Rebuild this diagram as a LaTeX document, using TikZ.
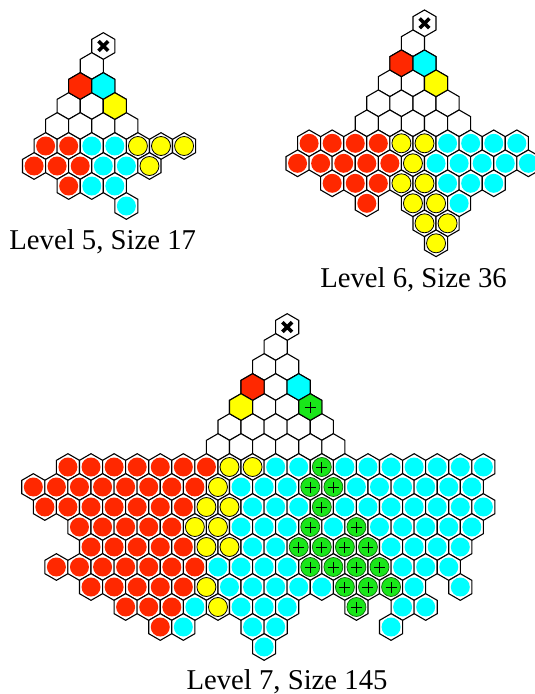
\documentclass[tikz,border=0pt]{standalone}
\usepackage{fontspec}
\setmainfont{Liberation Serif}

\definecolor{redc}{RGB}{255,40,0}
\definecolor{cyanc}{RGB}{0,255,255}
\definecolor{yellowc}{RGB}{255,255,0}
\definecolor{greenc}{RGB}{25,230,25}

\tikzset{
  hexline/.style={draw=black,line width=1.1pt},
  dotR/.style={fill=redc},
  dotC/.style={fill=cyanc},
  dotY/.style={fill=yellowc,draw=black,line width=.8pt},
  dotG/.style={fill=greenc,draw=greenc!45!black,line width=.7pt,plusmark},
  plusmark/.style={path picture={\draw[black,line width=.9pt] (path picture bounding box.center)
    +(-5.5pt,0pt) -- +(5.5pt,0pt) +(0pt,-5.5pt) -- +(0pt,5.5pt);}},
  xmark/.style={path picture={\draw[black,line width=3.6pt] (path picture bounding box.center)
    +(-4.8pt,-4.8pt) -- +(4.8pt,4.8pt) +(-4.8pt,4.8pt) -- +(4.8pt,-4.8pt);}},
  lab/.style={anchor=base,font=\fontsize{28.7}{34}\selectfont}
}

% one pointy-top hexagon centred at #2
\newcommand{\hexcell}[2][white]{\filldraw[hexline,fill=#1] (#2) +(90:13.33pt) -- +(30:13.33pt)
  -- +(-30:13.33pt) -- +(-90:13.33pt) -- +(-150:13.33pt) -- +(150:13.33pt) -- cycle;}
\newcommand{\hexdot}[3]{\hexcell{#2,#3}\path[dot#1] (#2,#3) circle (9.5pt);}
% top triangle with the cross on top
\newcommand{\hextri}[1]{\hexcell[white,xmark]{0,0}
  \foreach \k in {1,...,#1}{\foreach \i in {1,...,\k}{\pgfmathtruncatemacro\c{2*\i-\k-2}\hexcell{\c,\k}}}}
% row/first column/colours
\newcommand{\hexrows}[1]{\foreach \k/\s/\pat in {#1}{%
  \foreach \t [count=\i from 0] in \pat {\pgfmathtruncatemacro\c{\s+2*\i}\hexdot{\t}{\c}{\k}}}}

\begin{document}
\begin{tikzpicture}[x=1pt,y=-1pt]
\useasboundingbox (0,0) rectangle (535,694);

% level 5
\begin{scope}[shift={(103.3,46)},x=11.54pt,y=-20pt]
\hextri{4}
\hexcell[redc]{-2,2} \hexcell[cyanc]{0,2} \hexcell[yellowc]{1,3}
\hexrows{5/-5/{R,R,C,C,Y,Y,Y}, 6/-6/{R,R,R,C,C,Y}, 7/-3/{R,C,C}, 8/2/{C}}
\end{scope}
\node[lab] (lab5) at (102.7,249.7) {Level 5, Size 17};

% level 6
\begin{scope}[shift={(424.5,23.3)},x=11.54pt,y=-20pt]
\hextri{5}
\hexcell[redc]{-2,2} \hexcell[cyanc]{0,2} \hexcell[yellowc]{1,3}
\hexrows{6/-10/{R,R,R,R,Y,Y,C,C,C,C}, 7/-11/{R,R,R,R,R,Y,C,C,C,C,C},
  8/-8/{R,R,R,Y,Y,C,C,C}, 9/-5/{R}, 9/-1/{Y,Y,C}, 10/0/{Y,Y}, 11/1/{Y}}
\end{scope}
\node[lab] (lab6) at (413.5,287.3) {Level 6, Size 36};

% level 7
\begin{scope}[shift={(287.2,327)},x=11.54pt,y=-20pt]
\hextri{6}
\hexcell[redc]{-3,3} \hexcell[cyanc]{1,3} \hexcell[yellowc]{-4,4} \hexcell[greenc,plusmark]{2,4}
\hexrows{7/-19/{R,R,R,R,R,R,R,Y,Y,C,C,G,C,C,C,C,C,C,C},
  8/-22/{R,R,R,R,R,R,R,R,Y,C,C,C,G,G,C,C,C,C,C,C},
  9/-21/{R,R,R,R,R,R,R,Y,Y,C,C,C,G,C,C,C,C,C,C,C},
  10/-18/{R,R,R,R,R,Y,Y,C,C,C,G,C,G,C,C,C,C,C},
  11/-17/{R,R,R,R,R,Y,Y,C,C,G,G,G,G,C,C,C,C},
  12/-20/{R,R,R,R,R,R,R,C,C,C,C,G,G,G,G,C,C,C},
  13/-17/{R,R,R,R,R,Y,C,C,C,C,C,G,G,G,C}, 13/15/{C},
  14/-14/{R,R,R,C,Y,C,C,C}, 14/6/{G}, 14/10/{C,C},
  15/-11/{R,C}, 15/-3/{C,C}, 15/9/{C}, 16/-2/{C}}
\end{scope}
\node[lab] (lab7) at (287,689) {Level 7, Size 145};
\end{tikzpicture}
\end{document}
